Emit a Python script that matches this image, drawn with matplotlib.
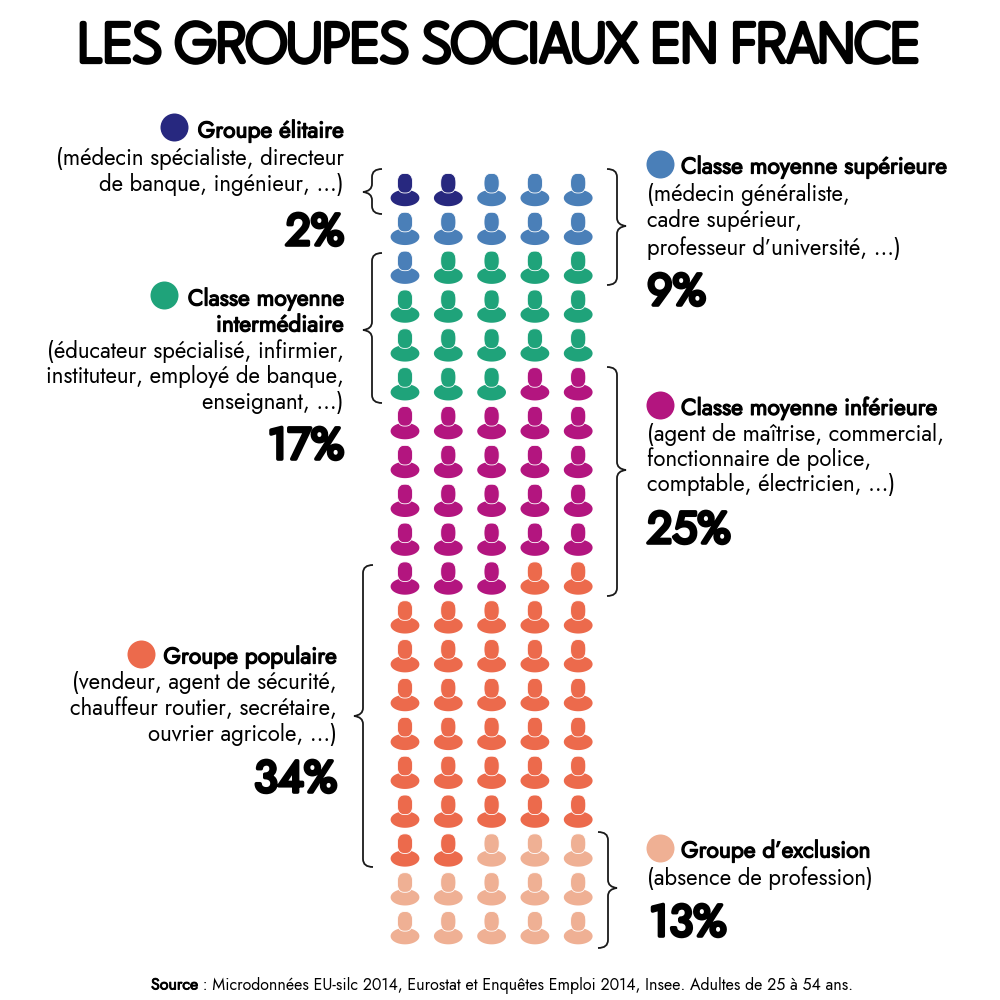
import matplotlib
matplotlib.use('Agg')
import matplotlib.pyplot as plt
import matplotlib.patheffects as pe
import numpy as np
from matplotlib.path import Path
from matplotlib.patches import PathPatch

# donnees
groupes = ['Groupe élitaire', 'Classe moyenne supérieure', 'Classe moyenne intermédiaire',
           'Classe moyenne inférieure', 'Groupe populaire', "Groupe d’exclusion"]
effectifs = [2, 9, 17, 25, 34, 13]
couleurs = ['#27287f', '#4a7fb8', '#1fa37a', '#b3157f', '#ec6a4c', '#efb094']
pourcents = ['2%', '9%', '17%', '25%', '34%', '13%']
par_ligne = 5

titre = 'LES GROUPES SOCIAUX EN FRANCE'
source = ' : Microdonnées EU-silc 2014, Eurostat et Enquêtes Emploi 2014, Insee. Adultes de 25 à 54 ans.'

BODY = ['Jost', 'Lato', 'DejaVu Sans']
TITRE = ['League Spartan', 'Jost', 'Lato', 'DejaVu Sans']
fig = plt.figure(figsize=(10, 10), dpi=100)

# axe des pictos : colonne / rang -> pixels
px0, dx = 405, 43.3
py0, dy = 190, 38.85
ax = fig.add_axes([0, 0, 1, 1])
ax.set_xlim(-px0 / dx, (1000 - px0) / dx)
ax.set_ylim((1000 - py0) / dy, -py0 / dy)
ax.axis('off')

# axe en pixels pour les textes et accolades
ov = fig.add_axes([0, 0, 1, 1])
ov.set_xlim(0, 1000)
ov.set_ylim(1000, 0)
ov.axis('off')
ov.patch.set_alpha(0)

t = np.linspace(0, 2 * np.pi, 80)
corps = Path(np.c_[14.4 * np.cos(t), -8 + 8.2 * np.sin(t)], closed=True)
tete = Path(np.c_[7.6 * np.sign(np.cos(t)) * np.abs(np.cos(t)) ** 0.75,
                  6.8 + 9.8 * np.sign(np.sin(t)) * np.abs(np.sin(t)) ** 0.8], closed=True)


def taille(path):
    return (2 * np.max(np.abs(path.vertices)) * 0.72) ** 2


idx = np.arange(sum(effectifs))
cols = idx % par_ligne
rangs = idx // par_ligne
coul = np.repeat(couleurs, effectifs)
ax.scatter(cols, rangs, s=taille(corps), marker=corps, c=coul, linewidths=0)
ax.scatter(cols, rangs, s=taille(tete), marker=tete, c=coul, edgecolors='white', linewidths=0.6)


def accolade(x, y0, y1, ym, sens):
    # sens = -1 : pointe a gauche, +1 : pointe a droite ; x = bout des branches
    s = x + 10 * sens
    p = x + 19 * sens
    r = 8
    v = [(x, y0), (s, y0), (s, y0 + r), (s, ym - r), (s, ym - 1), (p, ym),
         (s, ym + 1), (s, ym + r), (s, y1 - r), (s, y1), (x, y1)]
    c = [Path.MOVETO, Path.CURVE3, Path.CURVE3, Path.LINETO, Path.CURVE3, Path.CURVE3,
         Path.CURVE3, Path.CURVE3, Path.LINETO, Path.CURVE3, Path.CURVE3]
    ov.add_patch(PathPatch(Path(v, c), fc='none', ec='#1a1a1a', lw=1.3))


accolade(382, 169, 214, 192, -1)
accolade(382, 253, 403, 330, -1)
accolade(373, 565, 867, 716, -1)
accolade(607, 169, 285, 226, 1)
accolade(607, 367, 596, 470, 1)
accolade(598, 832, 948, 888, 1)


def gras(lw):
    return [pe.withStroke(linewidth=lw, foreground='black')]


ov.text(500, 48, titre, ha='center', va='center', fontsize=41.5, family=TITRE,
        color='black', path_effects=gras(3.8))


def txt(x, y, s, ha='left', bold=False):
    h = ov.text(x, y, s, ha=ha, va='center', fontsize=16, family=BODY, color='black')
    if bold:
        h.set_fontsize(16.4)
        h.set_path_effects(gras(0.9))


def pct(x, y, s, ha='left'):
    ov.text(x, y + 1.5, s, ha=ha, va='center', fontsize=32, family=BODY, color='black',
            path_effects=gras(2.6))


def rond(x, y, c):
    ov.scatter([x], [y], s=(28 * 0.72) ** 2, c=c, linewidths=0)


# gauche
rond(174, 127, couleurs[0])
txt(344, 131, groupes[0], 'right', True)
txt(344, 158, '(médecin spécialiste, directeur', 'right')
txt(344, 185, 'de banque, ingénieur, ...)', 'right')
pct(344, 231, pourcents[0], 'right')

rond(164, 295, couleurs[2])
txt(344, 299, 'Classe moyenne', 'right', True)
txt(344, 325, 'intermédiaire', 'right', True)
txt(344, 351, '(éducateur spécialisé, infirmier,', 'right')
txt(344, 376, 'instituteur, employé de banque,', 'right')
txt(344, 402, 'enseignant, ...)', 'right')
pct(344, 445, pourcents[2], 'right')

rond(141, 654, couleurs[4])
txt(337, 657, groupes[4], 'right', True)
txt(337, 683, '(vendeur, agent de sécurité,', 'right')
txt(337, 709, 'chauffeur routier, secrétaire,', 'right')
txt(337, 735, 'ouvrier agricole, ...)', 'right')
pct(337, 778, pourcents[4], 'right')

# droite
rond(660, 164, couleurs[1])
txt(681, 167, groupes[1], bold=True)
txt(647, 194, '(médecin généraliste,')
txt(647, 221, 'cadre supérieur,')
txt(647, 248, 'professeur d’université, ...)')
pct(647, 291, pourcents[1])

rond(660, 405, couleurs[3])
txt(681, 408, groupes[3], bold=True)
txt(647, 434, '(agent de maîtrise, commercial,')
txt(647, 459, 'fonctionnaire de police,')
txt(647, 485, 'comptable, électricien, ...)')
pct(647, 529, pourcents[3])

rond(660, 848, couleurs[5])
txt(681, 851, groupes[5], bold=True)
txt(647, 878, '(absence de profession)')
pct(649, 922, pourcents[5])

# source
a = ov.text(151, 985, 'Source', ha='left', va='center', fontsize=11.5, family=BODY, color='black',
            path_effects=gras(0.6))
fig.canvas.draw()
bb = a.get_window_extent()
ov.text(bb.x1, 985, source, ha='left', va='center', fontsize=11.5, family=BODY, color='black')

fig.savefig('out.png', dpi=100)
